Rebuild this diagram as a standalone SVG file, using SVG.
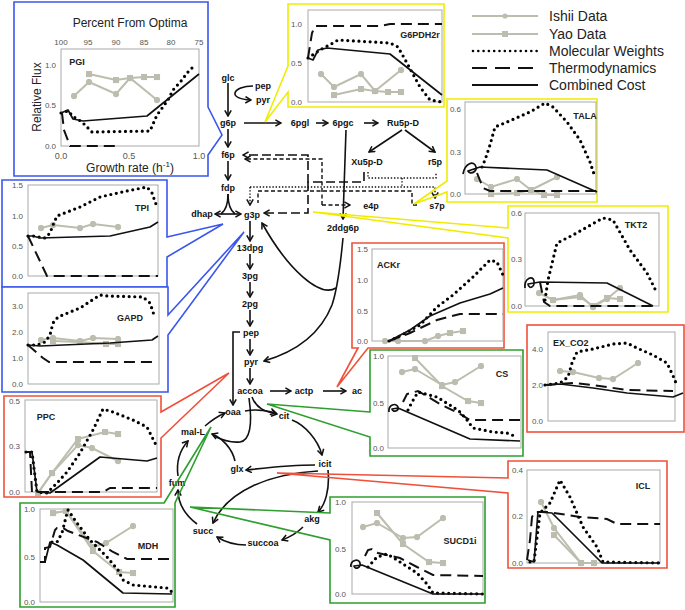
<svg xmlns="http://www.w3.org/2000/svg" width="685" height="610" viewBox="0 0 685 610">
<style>
text{font-family:"Liberation Sans",Arial,sans-serif}
.bx{fill:none;stroke-width:1.6;stroke-linejoin:miter}
.bb{stroke:#3a56ee}
.by{stroke:#f0ec00}
.br{stroke:#f0503a}
.bg{stroke:#2e9e2e}
.wf{fill:#fff;stroke:none}
.fr{fill:#fff;stroke:#a9a9a9;stroke-width:1}
.tk{font-size:8px;fill:#555;text-anchor:end}
.tt{font-size:9px;font-weight:bold;fill:#222;text-anchor:middle}
.ish{fill:none;stroke:#bdbdaf;stroke-width:2;marker-start:url(#mc);marker-mid:url(#mc);marker-end:url(#mc)}
.yao{fill:none;stroke:#bdbdaf;stroke-width:2;marker-start:url(#ms);marker-mid:url(#ms);marker-end:url(#ms)}
.mw{fill:none;stroke:#000;stroke-width:3.2;stroke-dasharray:0 5.6;stroke-linecap:round;stroke-linejoin:round}
.th{fill:none;stroke:#111;stroke-width:2;stroke-dasharray:11 6}
.cc{fill:none;stroke:#111;stroke-width:1.7;stroke-linejoin:round}
.nd{font-size:9px;font-weight:bold;fill:#111;text-anchor:middle}
.rx{fill:none;stroke:#111;stroke-width:1.6;marker-end:url(#ah)}
.ln{fill:none;stroke:#111;stroke-width:1.6}
.dl{fill:none;stroke:#111;stroke-width:1.6;stroke-dasharray:9 4}
.ds{fill:none;stroke:#111;stroke-width:1.4;stroke-dasharray:4 2.5}
.dd{fill:none;stroke:#111;stroke-width:1.4;stroke-dasharray:1.4 1.8}
.lg{font-size:14px;fill:#222}
</style>
<defs>
<marker id="ah" viewBox="0 0 10 10" refX="8.5" refY="5" markerWidth="8" markerHeight="8" markerUnits="userSpaceOnUse" orient="auto"><path d="M1.5,1 L8.5,5 L1.5,9" fill="none" stroke="#111" stroke-width="1.9"/></marker>
<marker id="mc" viewBox="0 0 8 8" refX="4" refY="4" markerWidth="7" markerHeight="7" markerUnits="userSpaceOnUse"><circle cx="4" cy="4" r="3.6" fill="#bdbdaf"/></marker>
<marker id="ms" viewBox="0 0 8 8" refX="4" refY="4" markerWidth="7" markerHeight="7" markerUnits="userSpaceOnUse"><rect x="0.5" y="0.5" width="7" height="7" fill="#bdbdaf"/></marker>
</defs>
<rect width="685" height="610" fill="#fff"/>

<g id="connectors">
<path class="rx" d="M228,83 V116"/>
<path class="rx" d="M253,86 C233,86 226,99 251,100"/>
<path class="rx" d="M244,123 H281"/>
<path class="rx" d="M316,123 H328"/>
<path class="rx" d="M364,123 H378"/>
<path class="rx" d="M402,130 L369,152"/>
<path class="rx" d="M405,130 L435,152"/>
<path class="rx" d="M346,130 L343,219"/>
<path class="rx" d="M228,129 V147"/>
<path class="rx" d="M228,161 V180"/>
<path class="ln" d="M228,194 C228,205 225,211 221,214"/>
<path class="ln" d="M228,194 C228,205 231,211 235,214"/>
<path class="rx" d="M228,214 H215"/>
<path class="rx" d="M228,214 H241"/>
<path class="rx" d="M250,221 V241"/>
<path class="rx" d="M250,254 V269"/>
<path class="rx" d="M250,282 V297"/>
<path class="rx" d="M250,310 V326"/>
<path class="rx" d="M250,339 V355"/>
<path class="rx" d="M250,368 V384"/>
<path class="rx" d="M270,391 H291"/>
<path class="rx" d="M323,391 H346"/>
<path class="rx" d="M240,332 H233 V405"/>
<path class="rx" d="M343,238 C340,270 337,290 332,305 C320,335 295,352 264,361"/>
<path class="rx" d="M336,288 C320,298 288,270 262,223"/>
<path class="rx" d="M252,397 C256,408 265,412 277,414"/>
<path class="rx" d="M245,411 C255,409 265,410 276,413"/>
<path class="ln" d="M249,398 C252,420 252,440 240,442 C230,443 222,440 214,436"/>
<path class="rx" d="M235,461 C232,448 222,438 212,434"/>
<path class="rx" d="M205,426 C212,420 218,416 225,413"/>
<path class="rx" d="M178,476 C176,462 180,450 188,441"/>
<path class="rx" d="M197,524 C185,515 178,505 178,490"/>
<path class="rx" d="M292,420 C305,425 318,440 322,455"/>
<path class="rx" d="M315,465 C290,465 265,468 246,470"/>
<path class="rx" d="M328,470 C330,490 325,505 318,512"/>
<path class="rx" d="M318,471 C270,474 228,490 213,523"/>
<path class="rx" d="M303,527 C297,533 290,537 282,540"/>
<path class="rx" d="M246,545 C235,545 225,542 217,537"/>
<path class="dl" d="M364,172 V182 H308 V155 H243" marker-end="url(#ah)"/>
<path class="dl" d="M308,182 V213 H264" marker-end="url(#ah)"/>
<path class="ds" d="M322,205 V159 H245" marker-end="url(#ah)"/>
<path class="ds" d="M322,205 H350" marker-end="url(#ah)"/>
<path class="ds" d="M417,205 H412 V191 H258 V203"/>
<path class="dd" d="M368,172 V178 H436 V172"/>
<path class="dd" d="M402,178 V187"/>
<path class="dd" d="M250,187 H435 V198" marker-end="url(#ah)"/>
<path class="dd" d="M250,187 V205" marker-end="url(#ah)"/>
</g>

<g id="n-glc"><text class="nd" x="228" y="81">glc</text></g>
<g id="n-pep1"><text class="nd" x="263" y="89">pep</text></g>
<g id="n-pyr1"><text class="nd" x="263" y="103">pyr</text></g>
<g id="n-g6p"><text class="nd" x="228" y="126">g6p</text></g>
<g id="n-6pgl"><text class="nd" x="300" y="126">6pgl</text></g>
<g id="n-6pgc"><text class="nd" x="343" y="126">6pgc</text></g>
<g id="n-ru5p"><text class="nd" x="403" y="126">Ru5p-D</text></g>
<g id="n-xu5p"><text class="nd" x="367" y="165">Xu5p-D</text></g>
<g id="n-r5p"><text class="nd" x="435" y="165">r5p</text></g>
<g id="n-f6p"><text class="nd" x="228" y="158">f6p</text></g>
<g id="n-fdp"><text class="nd" x="228" y="191">fdp</text></g>
<g id="n-dhap"><text class="nd" x="202" y="217">dhap</text></g>
<g id="n-g3p"><text class="nd" x="252" y="218">g3p</text></g>
<g id="n-e4p"><text class="nd" x="371" y="209">e4p</text></g>
<g id="n-s7p"><text class="nd" x="437" y="209">s7p</text></g>
<g id="n-2ddg6p"><text class="nd" x="343" y="231">2ddg6p</text></g>
<g id="n-13dpg"><text class="nd" x="250" y="251">13dpg</text></g>
<g id="n-3pg"><text class="nd" x="250" y="279">3pg</text></g>
<g id="n-2pg"><text class="nd" x="250" y="307">2pg</text></g>
<g id="n-pep"><text class="nd" x="251" y="336">pep</text></g>
<g id="n-pyr"><text class="nd" x="251" y="365">pyr</text></g>
<g id="n-accoa"><text class="nd" x="250" y="394">accoa</text></g>
<g id="n-actp"><text class="nd" x="304" y="394">actp</text></g>
<g id="n-ac"><text class="nd" x="357" y="394">ac</text></g>
<g id="n-oaa"><text class="nd" x="233" y="415">oaa</text></g>
<g id="n-cit"><text class="nd" x="284" y="419">cit</text></g>
<g id="n-mal"><text class="nd" x="193" y="435">mal-L</text></g>
<g id="n-glx"><text class="nd" x="237" y="472">glx</text></g>
<g id="n-icit"><text class="nd" x="325" y="467">icit</text></g>
<g id="n-fum"><text class="nd" x="177" y="486">fum</text></g>
<g id="n-akg"><text class="nd" x="312" y="522">akg</text></g>
<g id="n-succ"><text class="nd" x="203" y="534">succ</text></g>
<g id="n-succoa"><text class="nd" x="263" y="546">succoa</text></g>

<g id="legend">
<line x1="472" y1="16" x2="538" y2="16" stroke="#bdbdaf" stroke-width="2"/><circle cx="505" cy="16" r="2.6" fill="#bdbdaf"/>
<line x1="472" y1="34" x2="538" y2="34" stroke="#bdbdaf" stroke-width="2"/><rect x="502" y="31" width="6" height="6" fill="#bdbdaf"/>
<line x1="473" y1="51" x2="538" y2="51" stroke="#000" stroke-width="2.6" stroke-dasharray="0 5.3" stroke-linecap="round"/>
<line x1="472" y1="68" x2="538" y2="68" stroke="#111" stroke-width="2" stroke-dasharray="15 8"/>
<line x1="472" y1="85" x2="538" y2="85" stroke="#111" stroke-width="2"/>
<text class="lg" x="549" y="21">Ishii Data</text>
<text class="lg" x="549" y="39">Yao Data</text>
<text class="lg" x="549" y="56">Molecular Weights</text>
<text class="lg" x="549" y="73">Thermodynamics</text>
<text class="lg" x="549" y="90">Combined Cost</text>
</g>

<g id="p-PGI">
<rect class="wf" x="14" y="2" width="194" height="174"/>
<path class="bx bb" d="M208,107 L222,135 L208,155 V176 H14 V2 H208 Z"/>
<text x="130" y="27" font-size="12" text-anchor="middle" fill="#222">Percent From Optima</text>
<text class="tk" x="61" y="45" text-anchor="middle" style="text-anchor:middle">100</text>
<text class="tk" x="88" y="45" style="text-anchor:middle">95</text>
<text class="tk" x="116" y="45" style="text-anchor:middle">90</text>
<text class="tk" x="144" y="45" style="text-anchor:middle">85</text>
<text class="tk" x="171" y="45" style="text-anchor:middle">80</text>
<text class="tk" x="199" y="45" style="text-anchor:middle">75</text>
<rect class="fr" x="61" y="49" width="138" height="97"/>
<text class="tk" x="56" y="68">1.0</text>
<text class="tk" x="56" y="108">0.5</text>
<text class="tk" x="56" y="149">0.0</text>
<text class="tk" x="61" y="159" style="text-anchor:middle;font-size:9px">0.0</text>
<text class="tk" x="129" y="159" style="text-anchor:middle;font-size:9px">0.5</text>
<text class="tk" x="199" y="159" style="text-anchor:middle;font-size:9px">1.0</text>
<text x="130" y="172" font-size="12" text-anchor="middle" fill="#222">Growth rate (h<tspan dy="-5" font-size="8">-1</tspan><tspan dy="5">)</tspan></text>
<text x="41" y="97" transform="rotate(-90 41 97)" font-size="12" text-anchor="middle" fill="#222">Relative Flux</text>
<text class="tt" x="77" y="65">PGI</text>
<polyline class="yao" points="89,74 116,80 130,78 144,77 157,77"/>
<polyline class="ish" points="74,96 89,82 116,94 130,78 157,100"/>
<polyline class="th" points="62,113 64,130 70,146 120,146"/>
<polyline class="mw" points="61,113 68,111 74,117 82,122 87,127 92,132 150,131 157,115 168,100 173,90 182,80 187,73 194,66"/>
<polyline class="cc" points="61,113 68,110 73,119 83,121 147,116 199,74"/>
</g>

<g id="p-G6PDH2r">
<rect class="wf" x="288" y="4" width="156" height="103"/>
<path class="bx by" d="M288,66 L265,122 L288,92 V107 H444 V4 H288 Z"/>
<rect class="fr" x="308" y="10" width="134" height="92"/>
<text class="tk" x="302" y="27">1.0</text>
<text class="tk" x="302" y="66">0.5</text>
<text class="tk" x="302" y="105">0.0</text>
<text class="tt" x="420" y="38">G6PDH2r</text>
<polyline class="yao" points="334,95 361,89 375,91 388,92 401,92"/>
<polyline class="ish" points="321,74 334,87 361,74 375,91 401,70"/>
<polyline class="th" points="308,58 312,33 315,26 380,26 390,24 442,24"/>
<polyline class="mw" points="308,58 320,50 333,43 338,40 390,43 398,47 407,63 420,87 430,100 442,102"/>
<polyline class="cc" points="308,58 313,60 318,50 327,48 390,54 442,95"/>
</g>

<g id="p-TALA">
<rect class="wf" x="447" y="99" width="150" height="103"/>
<path class="bx by" d="M447,181 L414,204 L447,192 V202 H597 V99 H447 Z"/>
<rect class="fr" x="465" y="102" width="131" height="92"/>
<text class="tk" x="461" y="112">0.6</text>
<text class="tk" x="461" y="155">0.3</text>
<text class="tk" x="461" y="197">0.0</text>
<text class="tt" x="585" y="119">TALA</text>
<polyline class="yao" points="491,194 517,193 531,190 544,195 557,195"/>
<polyline class="ish" points="477,179 491,187 517,179 531,190 557,177"/>
<polyline class="th" points="477,173 483,188 490,191 597,191"/>
<polyline class="mw" points="482,167 485,160 490,145 495,127 507,122 530,112 545,103 553,107 567,122 580,140 590,162 595,177"/>
<path class="cc" d="M463,174 C465,163 474,160 476,167 C477,172 470,175 468,171 L480,167 L547,170 L597,192"/>
</g>

<g id="p-TKT2">
<rect class="wf" x="508" y="206" width="160" height="106"/>
<path class="bx by" d="M508,228 L313,212 L508,238 V312 H668 V206 H508 Z"/>
<rect class="fr" x="525" y="213" width="134" height="93"/>
<text class="tk" x="522" y="216">0.6</text>
<text class="tk" x="522" y="262">0.3</text>
<text class="tk" x="522" y="309">0.0</text>
<text class="tt" x="636" y="228">TKT2</text>
<polyline class="yao" points="553,300 580,297 593,306 607,298 620,299"/>
<polyline class="ish" points="539,293 553,300 580,295 593,307 607,299 620,288"/>
<polyline class="th" points="540,282 544,302 550,306 655,306"/>
<polyline class="mw" points="545,300 548,280 557,243 573,235 603,218 613,220 630,250 647,273 657,293"/>
<path class="cc" d="M525,288 C524,278 533,275 534,281 C535,287 529,290 528,284 L540,282 L607,283 L653,306"/>
</g>

<g id="p-TPI">
<rect class="wf" x="2" y="180" width="165" height="107"/>
<path class="bx bb" d="M167,237 L223,224 L167,257 V287 H2 V180 H167 Z"/>
<rect class="fr" x="28" y="185" width="130" height="91"/>
<text class="tk" x="23" y="188">1.5</text>
<text class="tk" x="23" y="219">1.0</text>
<text class="tk" x="23" y="249">0.5</text>
<text class="tk" x="23" y="279">0.0</text>
<text class="tt" x="142" y="211">TPI</text>
<polyline class="ish" points="41,228 53,225 80,228 93,224 118,227"/>
<polyline class="th" points="28,236 47,276 53,276 158,276"/>
<polyline class="mw" points="28,236 33,236 45,238 50,233 53,225 57,216 80,207 100,197 113,194 127,191 147,187 152,193 157,207"/>
<polyline class="cc" points="28,236 33,236 40,238 110,236 150,227 158,222"/>
</g>

<g id="p-GAPD">
<rect class="wf" x="2" y="287" width="166" height="105"/>
<path class="bx bb" d="M168,315 L244,232 L168,335 V392 H2 V287 H168 Z"/>
<rect class="fr" x="28" y="293" width="131" height="91"/>
<text class="tk" x="23" y="309">3.0</text>
<text class="tk" x="23" y="335">2.0</text>
<text class="tk" x="23" y="361">1.0</text>
<text class="tk" x="23" y="387">0.0</text>
<text class="tt" x="130" y="321">GAPD</text>
<polyline class="yao" points="53,341 80,342 106,344 118,344"/>
<polyline class="ish" points="41,340 53,338 80,341 93,338 118,339"/>
<polyline class="th" points="28,345 43,358 49,362 155,362"/>
<polyline class="mw" points="28,345 37,345 45,342 50,335 53,323 58,317 80,308 100,295 107,296 143,297 150,303 155,318"/>
<polyline class="cc" points="28,345 40,346 110,343 152,340 158,336"/>
</g>

<g id="p-PPC">
<rect class="wf" x="4" y="396" width="157" height="101"/>
<path class="bx br" d="M161,412 L229,373 L161,438 V497 H4 V396 H161 Z"/>
<rect class="fr" x="25" y="400" width="132" height="92"/>
<text class="tk" x="20" y="404">0.5</text>
<text class="tk" x="20" y="449">0.3</text>
<text class="tk" x="20" y="495">0.0</text>
<text class="tt" x="46" y="420">PPC</text>
<polyline class="yao" points="38,493 52,473 78,439 105,432 118,434"/>
<polyline class="ish" points="38,493 52,473 78,445 92,448 118,461"/>
<polyline class="th" points="25,452 30,452 32,492 103,492 110,488 157,488"/>
<polyline class="mw" points="26,452 32,452 37,492 47,493 57,483 67,472 80,453 93,430 103,409 113,412 133,420 147,427 157,447"/>
<polyline class="cc" points="25,452 32,452 37,492 50,493 100,457 147,461 157,458"/>
</g>

<g id="p-MDH">
<rect class="wf" x="20" y="503" width="155" height="104"/>
<path class="bx bg" d="M164,503 L211,427 L175,503 V607 H20 V503 Z"/>
<rect class="fr" x="40" y="509" width="133" height="93"/>
<text class="tk" x="35" y="512">1.0</text>
<text class="tk" x="35" y="560">0.5</text>
<text class="tk" x="35" y="605">0.0</text>
<text class="tt" x="148" y="549">MDH</text>
<polyline class="yao" points="53,513 66,511 93,551 119,572 133,573"/>
<polyline class="ish" points="53,513 66,511 93,547 106,543 133,526"/>
<polyline class="th" points="40,562 45,562 45,548 50,547 55,530 57,528 63,528 68,531 97,542 113,552 127,559 172,559"/>
<polyline class="mw" points="52,542 57,542 62,533 67,513 68,510 77,523 90,540 107,557 118,570 123,580 133,585 167,588 172,592"/>
<polyline class="cc" points="40,562 45,562 50,542 57,545 83,560 123,593 172,594"/>
</g>

<g id="p-SUCD1i">
<rect class="wf" x="330" y="497" width="155" height="106"/>
<path class="bx bg" d="M330,513 L190,507 L330,540 V603 H485 V497 H330 Z"/>
<rect class="fr" x="352" y="502" width="131" height="92"/>
<text class="tk" x="346" y="505">1.0</text>
<text class="tk" x="346" y="552">0.5</text>
<text class="tk" x="346" y="597">0.0</text>
<text class="tt" x="460" y="544">SUCD1i</text>
<polyline class="yao" points="377,513 403,544 429,562 443,563"/>
<polyline class="ish" points="363,527 377,523 403,538 417,537 443,518"/>
<polyline class="th" points="365,556 368,550 372,549 378,553 400,558 417,567 433,575 483,576"/>
<polyline class="mw" points="368,567 377,557 387,554 397,560 417,573 427,584 433,593 483,594"/>
<path class="cc" d="M351,567 C350,560 359,558 360,563 C361,568 355,570 354,566 L362,565 L433,594 L483,594"/>
</g>

<g id="p-ICL">
<rect class="wf" x="508" y="461" width="159" height="107"/>
<path class="bx br" d="M508,478 L277,473 L508,493 V568 H667 V461 H508 Z"/>
<rect class="fr" x="527" y="470" width="133" height="93"/>
<text class="tk" x="523" y="473">0.4</text>
<text class="tk" x="523" y="519">0.2</text>
<text class="tk" x="523" y="566">0.0</text>
<text class="tt" x="643" y="489">ICL</text>
<polyline class="yao" points="554,535 581,563 594,563"/>
<polyline class="ish" points="541,502 554,528 581,563 594,563"/>
<polyline class="th" points="527,560 530,540 532,517 535,512 548,512 580,517 607,519 617,524 660,524"/>
<polyline class="mw" points="530,562 534,562 540,513 550,503 560,480 570,497 583,527 597,547 603,562 660,563"/>
<polyline class="cc" points="528,560 534,562 538,512 552,513 602,563 660,563"/>
</g>

<g id="p-CS">
<rect class="wf" x="370" y="350" width="153" height="106"/>
<path class="bx bg" d="M370,412 L267,404 L370,437 V456 H523 V350 H370 Z"/>
<rect class="fr" x="388" y="356" width="133" height="92"/>
<text class="tk" x="384" y="359">1.0</text>
<text class="tk" x="384" y="406">0.5</text>
<text class="tk" x="384" y="451">0.0</text>
<text class="tt" x="502" y="377">CS</text>
<polyline class="yao" points="415,358 442,386 468,401 481,403"/>
<polyline class="ish" points="402,372 415,369 442,385 455,382 481,366"/>
<polyline class="th" points="403,402 407,394 418,391 440,404 460,414 470,420 520,420"/>
<polyline class="mw" points="408,410 412,402 418,392 437,397 453,407 460,412 467,420 473,428 493,432 507,433 517,437"/>
<path class="cc" d="M389,412 C388,405 396,402 398,407 C399,411 393,413 392,409 L398,408 L470,439 L520,441"/>
</g>

<g id="p-EX_CO2">
<rect class="wf" x="527" y="325" width="157" height="107"/>
<rect class="bx br" x="527" y="325" width="157" height="107"/>
<rect class="fr" x="548" y="332" width="127" height="89"/>
<text class="tk" x="543" y="352">4.0</text>
<text class="tk" x="543" y="388">2.0</text>
<text class="tk" x="543" y="424">0.0</text>
<text class="tt" x="553" y="346" style="text-anchor:start">EX_CO2</text>
<polyline class="ish" points="560,371 573,372 599,378 613,379 638,363"/>
<polyline class="th" points="545,385 573,383 593,385 627,390 673,391"/>
<polyline class="mw" points="545,385 560,383 568,377 572,363 577,352 593,349 613,344 627,343 637,348 653,355 667,363 675,380 677,387"/>
<polyline class="cc" points="545,385 560,384 593,388 627,393 673,397 683,393"/>
</g>

<g id="p-ACKr">
<rect class="wf" x="352" y="243" width="152" height="105"/>
<path class="bx br" d="M358,348 L337,387 L368,348 H504 V243 H352 V348 Z"/>
<rect class="fr" x="372" y="249" width="131" height="92"/>
<text class="tk" x="368" y="252">1.5</text>
<text class="tk" x="368" y="283">1.0</text>
<text class="tk" x="368" y="314">0.5</text>
<text class="tk" x="368" y="344">0.0</text>
<text class="tt" x="377" y="268" style="text-anchor:start">ACKr</text>
<polyline class="ish" points="385,341 398,341 425,341 438,336"/>
<polyline class="yao" points="450,333 463,331"/>
<line x1="438" y1="336" x2="450" y2="333" stroke="#bdbdaf" stroke-width="2"/>
<polyline class="th" points="389,341 410,333 437,320 460,314 503,314"/>
<polyline class="mw" points="389,341 400,336 420,325 437,307 453,295 473,277 490,260 497,262 503,275"/>
<polyline class="cc" points="389,341 410,330 430,316 460,303 490,294 503,288"/>
</g>
</svg>
